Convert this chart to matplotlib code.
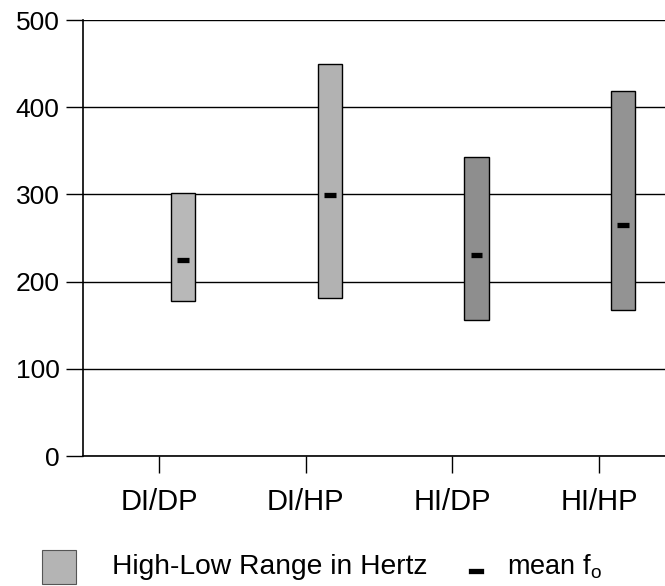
import matplotlib
matplotlib.use("Agg")
import matplotlib.pyplot as plt
import numpy as np
from matplotlib.patches import Rectangle
from matplotlib.lines import Line2D

plt.rcParams['font.family'] = ['Liberation Sans', 'DejaVu Sans']

categories = ["DI/DP", "DI/HP", "HI/DP", "HI/HP"]
high_hz = [302, 450, 343, 419]
low_hz = [178, 181, 156, 167]
mean_f0 = [225, 299, 231, 265]
bar_colors = ["#b8b8b8", "#b2b2b2", "#8e8e8e", "#939393"]
yticks = [0, 100, 200, 300, 400, 500]

W, H = 665, 586
fig = plt.figure(figsize=(W / 100, H / 100), dpi=100)
ax = fig.add_axes([83 / W, 1 - 456 / H, 1 - 83 / W, (456 - 20) / H])

x = np.arange(len(categories))
offset = 0.164
width = 0.164
heights = np.array(high_hz) - np.array(low_hz)
ax.bar(x + offset, heights, bottom=low_hz, width=width, color=bar_colors,
       edgecolor="black", linewidth=1.0, zorder=3)
ax.hlines(mean_f0, x + offset - 0.04, x + offset + 0.04, colors="black",
          linewidth=3.8, zorder=4)

ax.set_xlim(-0.518, 3.449)
ax.set_ylim(0, 500)
ax.set_yticks(yticks)
ax.set_xticks(x)
ax.set_xticklabels(categories, fontsize=21)
ax.tick_params(axis="y", labelsize=19, length=12, width=1, pad=5)
ax.tick_params(axis="x", length=12, width=1, pad=11)
ax.yaxis.grid(True, color="black", linewidth=1.0, zorder=0)
ax.spines["right"].set_visible(False)
ax.spines["top"].set_visible(False)
ax.spines["left"].set_linewidth(1.2)
ax.spines["bottom"].set_linewidth(1.2)

# legend
fig.add_artist(Rectangle((42 / W, 1 - 584 / H), 34 / W, 34 / H,
                         transform=fig.transFigure, facecolor="#b4b4b4",
                         edgecolor="#555555", linewidth=0.8))
fig.text(112 / W, 1 - 567 / H, "High-Low Range in Hertz", fontsize=20.3,
         va="center", ha="left")
fig.add_artist(Line2D([471 / W, 481 / W], [1 - 571 / H, 1 - 571 / H],
                      transform=fig.transFigure, color="black", linewidth=3.8))
fig.text(507 / W, 1 - 567 / H, r"mean f$_\mathregular{o}$", fontsize=19.5,
         va="center", ha="left")

fig.savefig("out.png", dpi=100)
